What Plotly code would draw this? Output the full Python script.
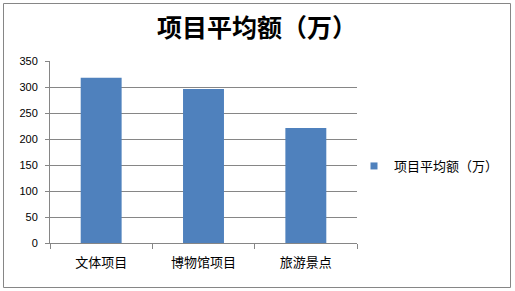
import plotly.graph_objects as go

categories = ["文体项目", "博物馆项目", "旅游景点"]
values = [318, 296, 221]
series_name = "项目平均额（万）"
title_text = "项目平均额（万）"
y_ticks = [0, 50, 100, 150, 200, 250, 300, 350]

W, H = 515, 291
L, R, T, B = 50, 357, 61, 243
bar_color = "#4F81BD"

fig = go.Figure()
fig.add_trace(go.Bar(
    x=categories, y=values, name=series_name,
    marker=dict(color=bar_color, line=dict(width=0)),
    width=0.4, showlegend=False,
))
# legend entry with a small square swatch
fig.add_trace(go.Scatter(
    x=[categories[0]], y=[None], mode="markers", name=series_name,
    marker=dict(symbol="square", size=7, color=bar_color),
    showlegend=True, hoverinfo="skip",
))

def px2x(px):
    return (px - L) / (R - L)

def py2y(py):
    return (B - py) / (B - T)

fig.update_layout(
    width=W, height=H,
    margin=dict(l=L, r=W - R, t=T, b=H - B, pad=0, autoexpand=False),
    paper_bgcolor="white", plot_bgcolor="white",
    font=dict(family="Noto Sans CJK SC, Liberation Sans, sans-serif", color="#000000"),
    title=dict(text="<b>" + title_text + "</b>", x=257 / W, xanchor="center",
               y=1 - 28 / H, yanchor="middle",
               font=dict(size=25, family="Noto Sans CJK SC", color="#000000")),
    xaxis=dict(showline=True, linecolor="#868686", linewidth=1,
               ticks="outside", tickson="boundaries", ticklen=5, tickcolor="#868686",
               tickfont=dict(size=13, family="Noto Sans CJK SC"), showgrid=False,
               ticklabelstandoff=7),
    yaxis=dict(range=[0, 350], tickvals=y_ticks, showline=True, linecolor="#868686",
               linewidth=1, ticks="outside", ticklen=4, tickcolor="#868686",
               gridcolor="#868686", gridwidth=1, zeroline=False,
               tickfont=dict(size=11, family="Liberation Sans"),
               ticklabelstandoff=5),
    legend=dict(x=px2x(354), y=py2y(166), xanchor="left", yanchor="middle",
                font=dict(size=13, family="Noto Sans CJK SC"),
                bgcolor="rgba(0,0,0,0)", itemwidth=30),
    shapes=[dict(type="rect", xref="paper", yref="paper",
                 x0=px2x(3.5), x1=px2x(510.5), y0=py2y(287.5), y1=py2y(3.5),
                 line=dict(color="#868686", width=1), fillcolor="rgba(0,0,0,0)",
                 layer="below")],
)

fig.write_html("out.html")
